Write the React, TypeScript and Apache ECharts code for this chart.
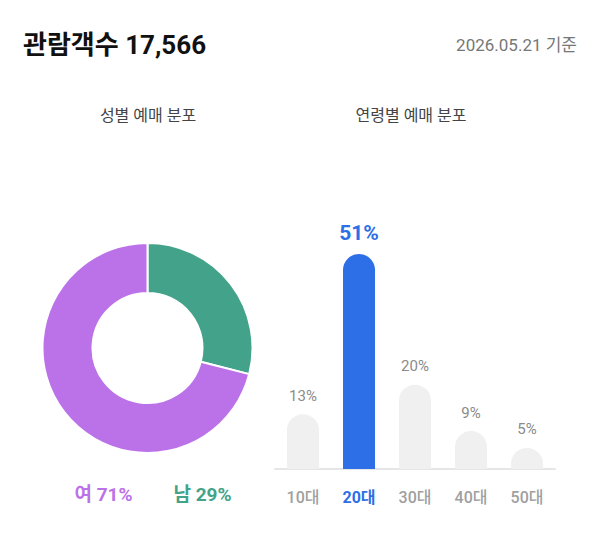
import React, { useEffect, useRef } from "react";
import * as echarts from "echarts";

const title = "관람객수 17,566";
const dateText = "2026.05.21 기준";
const genderTitle = "성별 예매 분포";
const ageTitle = "연령별 예매 분포";

const genderNames = ["남", "여"];
const genderValues = [29, 71];
const genderColors = ["#43a38a", "#bb72e8"];

const ageCategories = ["10대", "20대", "30대", "40대", "50대"];
const ageValues = [13, 51, 20, 9, 5];
const highlightIndex = 1;

const FONT = "Roboto, 'Noto Sans CJK KR', 'Noto Sans', sans-serif";
const BLUE = "#2d6fe6";

export default function App() {
  const ref = useRef<HTMLDivElement>(null);
  useEffect(() => {
    if (!ref.current) return;
    const chart = echarts.init(ref.current, null, { renderer: "svg" });
    const option: any = {
      animation: false,
      backgroundColor: "#ffffff",
      textStyle: { fontFamily: FONT },
      graphic: [
        {
          type: "text",
          x: 23,
          y: 45,
          style: { text: title, fontSize: 26, fontWeight: "bold", fill: "#111", verticalAlign: "middle", fontFamily: FONT },
        },
        {
          type: "text",
          x: 577,
          y: 45,
          style: { text: dateText, fontSize: 17, fill: "#777", align: "right", verticalAlign: "middle", fontFamily: FONT },
        },
        {
          type: "text",
          x: 148,
          y: 115,
          style: { text: genderTitle, fontSize: 16, fill: "#444", align: "center", verticalAlign: "middle", fontFamily: FONT },
        },
        {
          type: "text",
          x: 411,
          y: 115,
          style: { text: ageTitle, fontSize: 16, fill: "#444", align: "center", verticalAlign: "middle", fontFamily: FONT },
        },
        {
          type: "text",
          x: 103.5,
          y: 494,
          style: {
            text: `${genderNames[1]} ${genderValues[1]}%`,
            fontSize: 19,
            fontWeight: "bold",
            fill: genderColors[1],
            align: "center",
            verticalAlign: "middle",
            fontFamily: FONT,
          },
        },
        {
          type: "text",
          x: 202.5,
          y: 494,
          style: {
            text: `${genderNames[0]} ${genderValues[0]}%`,
            fontSize: 19,
            fontWeight: "bold",
            fill: genderColors[0],
            align: "center",
            verticalAlign: "middle",
            fontFamily: FONT,
          },
        },
      ],
      grid: { left: 275, width: 280, top: 216, height: 253 },
      xAxis: {
        type: "category",
        data: ageCategories,
        axisLine: { lineStyle: { color: "#e6e6e6", width: 2 } },
        axisTick: { show: false },
        axisLabel: {
          interval: 0,
          hideOverlap: false,
          margin: 20,
          fontSize: 16,
          fontFamily: FONT,
          formatter: (v: string, i: number) => (i === highlightIndex ? `{b|${v}}` : `{n|${v}}`),
          rich: {
            b: { fontSize: 16, fontWeight: "bold", color: BLUE, fontFamily: FONT },
            n: { fontSize: 16, fontWeight: 500, color: "#a0a0a0", fontFamily: FONT },
          },
        },
      },
      yAxis: { type: "value", min: 0, max: 60, show: false, splitLine: { show: false } },
      series: [
        {
          type: "pie",
          center: [147.5, 348],
          radius: [55, 105],
          startAngle: 90,
          clockwise: true,
          label: { show: false },
          labelLine: { show: false },
          itemStyle: { borderColor: "#fff", borderWidth: 2 },
          data: genderNames.map((n, i) => ({ name: n, value: genderValues[i], itemStyle: { color: genderColors[i] } })),
        },
        {
          type: "bar",
          barWidth: 32,
          data: ageValues.map((v, i) => ({
            value: v,
            itemStyle: {
              color: i === highlightIndex ? BLUE : "#f0f0f0",
              borderRadius: [16, 16, 0, 0],
            },
            label: i === highlightIndex
              ? { color: BLUE, fontSize: 21, fontWeight: "bold", distance: 10 }
              : { color: "#8a8a8a", fontSize: 15, distance: 11 },
          })),
          label: {
            show: true,
            position: "top",
            formatter: "{c}%",
            fontFamily: FONT,
          },
        },
      ],
    };
    chart.setOption(option);
    return () => chart.dispose();
  }, []);
  return (
    <div
      ref={ref}
      style={{ position: "absolute", left: 0, top: 0, width: 600, height: 547 }}
    />
  );
}
